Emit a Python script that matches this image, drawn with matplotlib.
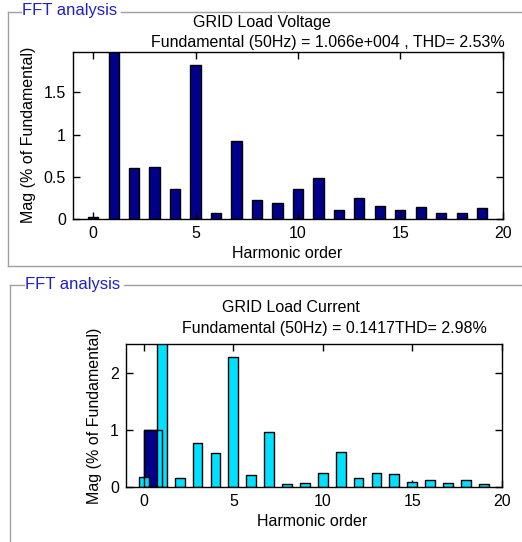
import matplotlib
matplotlib.use("Agg")
import matplotlib.pyplot as plt
from matplotlib.lines import Line2D
from matplotlib.ticker import FormatStrFormatter

# Harmonic spectra (magnitude in % of fundamental)
harmonics = list(range(20))
voltage_mag = [0.02, 100.0, 0.60, 0.61, 0.36, 1.82, 0.07, 0.92, 0.22, 0.19,
               0.35, 0.49, 0.11, 0.245, 0.155, 0.11, 0.14, 0.07, 0.07, 0.125]
current_mag = [0.185, 100.0, 0.17, 0.77, 0.60, 2.27, 0.21, 0.96, 0.065, 0.08,
               0.25, 0.62, 0.17, 0.25, 0.23, 0.10, 0.12, 0.08, 0.12, 0.065]
current_dc_bar_x = [0.5]
current_dc_bar_h = [1.0]

voltage_title = "GRID Load Voltage"
voltage_info = "Fundamental (50Hz) = 1.066e+004 , THD= 2.53%"
current_title = "GRID Load Current"
current_info = "Fundamental (50Hz) = 0.1417THD= 2.98%"
panel_label = "FFT analysis"
xlabel = "Harmonic order"
ylabel = "Mag (% of Fundamental)"
xticks = [0, 5, 10, 15, 20]

W, H = 522, 542
NAVY = "#00008a"
CYAN = "#00e0ff"
FRAME = "#a0a0a0"
PANEL_BLUE = "#2020c8"
FONT = "Liberation Sans"
FS = 11.5

plt.rcParams["font.family"] = FONT

fig = plt.figure(figsize=(W / 100, H / 100), dpi=100)
fig.patch.set_facecolor("white")


def fx(x):
    return x / W


def fy(y):
    return 1 - y / H


def axes_px(left, top, right, bottom):
    return fig.add_axes([fx(left), fy(bottom), (right - left) / W, (bottom - top) / H])


def hline(x0, x1, y, color=FRAME, lw=1.0):
    fig.add_artist(Line2D([fx(x0), fx(x1)], [fy(y), fy(y)], color=color, lw=lw,
                          transform=fig.transFigure))


def vline(x, y0, y1, color=FRAME, lw=1.0):
    fig.add_artist(Line2D([fx(x), fx(x)], [fy(y0), fy(y1)], color=color, lw=lw,
                          transform=fig.transFigure))


def text_px(x, y, s, **kw):
    kw.setdefault("fontsize", FS)
    fig.text(fx(x), fy(y), s, **kw)


def style_axes(ax, ylim, yticks):
    ax.set_xlim(-1, 20)
    ax.set_ylim(*ylim)
    ax.set_xticks(xticks)
    ax.set_yticks(yticks)
    ax.yaxis.set_major_formatter(FormatStrFormatter("%g"))
    ax.tick_params(direction="in", length=5, width=1, top=True, right=True,
                   labelsize=FS, pad=5, colors="black")
    for sp in ax.spines.values():
        sp.set_linewidth(1.0)
        sp.set_color("black")


# ---- panel frames ----
hline(7.5, 21, 12)
hline(121, W, 12)
vline(7.5, 12, 266)
hline(7.5, W, 266)
text_px(22, 11, panel_label, color=PANEL_BLUE, va="center", ha="left", fontsize=12)

hline(9.5, 24, 285)
hline(124, W, 285)
vline(9.5, 285, H)
text_px(25, 284, panel_label, color=PANEL_BLUE, va="center", ha="left", fontsize=12)

# ---- voltage spectrum ----
ax1 = axes_px(72.7, 51.7, 502.7, 219)
ax1.bar(harmonics, voltage_mag, width=0.5, color=NAVY, edgecolor="black", linewidth=1.0)
style_axes(ax1, (0, 1.98), [0, 0.5, 1, 1.5])
text_px(262, 22.7, voltage_title, ha="center", va="center")
text_px(328, 42.7, voltage_info, ha="center", va="center")
text_px(287, 254, xlabel, ha="center", va="center")
text_px(28.5, 135, ylabel, ha="center", va="center", rotation=90)

# ---- current spectrum ----
ax2 = axes_px(126, 344, 501.7, 487.3)
ax2.bar(current_dc_bar_x, current_dc_bar_h, width=1.0, color=NAVY, edgecolor="black",
        linewidth=1.0, zorder=1)
ax2.bar(harmonics, current_mag, width=0.55, color=CYAN, edgecolor="black", linewidth=1.0,
        zorder=2)
ax2.bar(current_dc_bar_x, current_dc_bar_h, width=1.0, fill=False, edgecolor="black",
        linewidth=1.0, zorder=3)
style_axes(ax2, (0, 2.5), [0, 1, 2])
text_px(291, 308, current_title, ha="center", va="center")
text_px(334, 328, current_info, ha="center", va="center")
text_px(312, 522, xlabel, ha="center", va="center")
text_px(94, 416, ylabel, ha="center", va="center", rotation=90)

fig.savefig("out.png", dpi=100, facecolor="white")
